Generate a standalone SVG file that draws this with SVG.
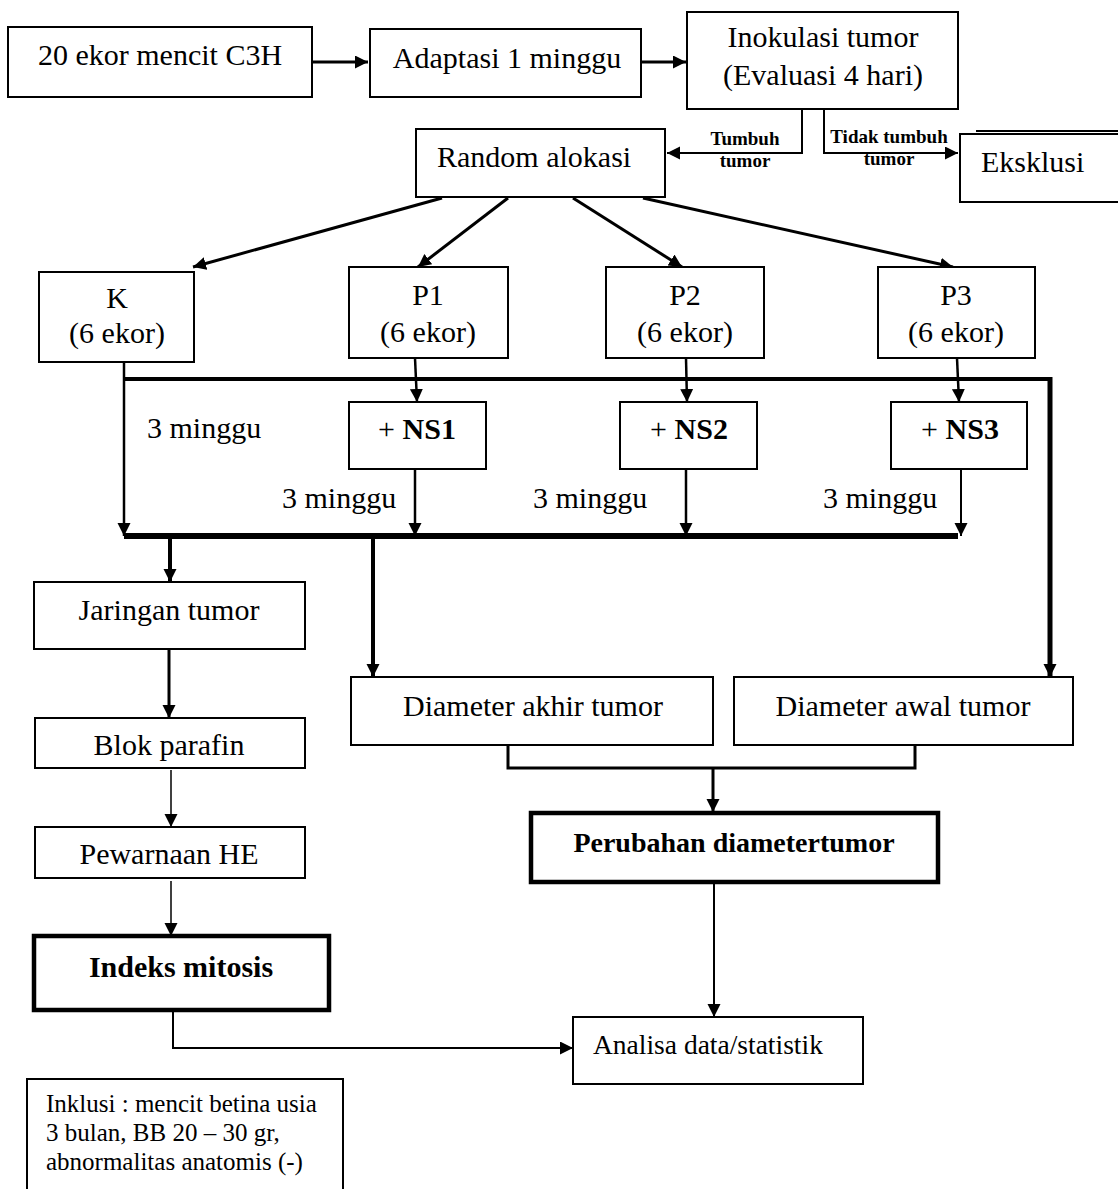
<svg xmlns="http://www.w3.org/2000/svg" width="1118" height="1189" viewBox="0 0 1118 1189">
<style>
text{font-family:"Liberation Serif","Times New Roman",serif;font-size:30px;fill:#000}
.b{font-weight:bold}
.m{text-anchor:middle}
.sm{font-size:19px;font-weight:bold;text-anchor:middle}
.box{fill:#fff;stroke:#000;stroke-width:2}
.bold{fill:#fff;stroke:#000;stroke-width:4.5}
.c{fill:none;stroke:#000;stroke-linejoin:miter}
</style>
<defs>
<marker id="ah" markerUnits="userSpaceOnUse" markerWidth="14" markerHeight="14" refX="13" refY="6.5" orient="auto">
<path d="M0,0 L13,6.5 L0,13 z" fill="#000"/>
</marker>
</defs>
<rect width="1118" height="1189" fill="#fff"/>

<g id="connectors">
<path class="c" stroke-width="3" d="M312,62 H368" marker-end="url(#ah)"/>
<path class="c" stroke-width="3" d="M641,62 H686" marker-end="url(#ah)"/>
<path class="c" stroke-width="2" d="M802,109 V153 H667" marker-end="url(#ah)"/>
<path class="c" stroke-width="2" d="M824,109 V153 H958" marker-end="url(#ah)"/>
<path class="c" stroke-width="3" d="M442,198 L193,267" marker-end="url(#ah)"/>
<path class="c" stroke-width="3" d="M508,198 L418,267" marker-end="url(#ah)"/>
<path class="c" stroke-width="3" d="M573,198 L682,267" marker-end="url(#ah)"/>
<path class="c" stroke-width="3" d="M643,198 L953,267" marker-end="url(#ah)"/>
<path class="c" stroke-width="2.5" d="M124,362 V536" marker-end="url(#ah)"/>
<path class="c" stroke-width="4" d="M124,379 H1050"/>
<path class="c" stroke-width="5" d="M1050,377 V677" marker-end="url(#ah)"/>
<path class="c" stroke-width="2.5" d="M415,358 L417,402" marker-end="url(#ah)"/>
<path class="c" stroke-width="2.5" d="M686,358 L687,402" marker-end="url(#ah)"/>
<path class="c" stroke-width="2.5" d="M957,358 L959,402" marker-end="url(#ah)"/>
<path class="c" stroke-width="2.5" d="M415,469 V536" marker-end="url(#ah)"/>
<path class="c" stroke-width="2.5" d="M686,469 V536" marker-end="url(#ah)"/>
<path class="c" stroke-width="2" d="M961,469 V536" marker-end="url(#ah)"/>
<path class="c" stroke-width="6" d="M124,536 H958"/>
<path class="c" stroke-width="4" d="M170,536 V582" marker-end="url(#ah)"/>
<path class="c" stroke-width="4" d="M373,536 V677" marker-end="url(#ah)"/>
<path class="c" stroke-width="3" d="M169,649 V718" marker-end="url(#ah)"/>
<path class="c" stroke-width="1.5" d="M171,770 V827" marker-end="url(#ah)"/>
<path class="c" stroke-width="1.5" d="M171,881 V936" marker-end="url(#ah)"/>
<path class="c" stroke-width="2" d="M173,1010 V1048 H573" marker-end="url(#ah)"/>
<path class="c" stroke-width="3" d="M508,745 V768 H915 V745"/>
<path class="c" stroke-width="3" d="M713,768 V812" marker-end="url(#ah)"/>
<path class="c" stroke-width="2" d="M714,882 V1017" marker-end="url(#ah)"/>
</g>

<g id="n-mencit"><rect class="box" x="8" y="27" width="304" height="70"/><text class="m" x="160" y="65">20 ekor mencit C3H</text></g>
<g id="n-adaptasi"><rect class="box" x="370" y="29" width="271" height="68"/><text class="m" x="507" y="68">Adaptasi 1 minggu</text></g>
<g id="n-inokulasi"><rect class="box" x="687" y="12" width="271" height="97"/><text class="m" x="823" y="47">Inokulasi tumor</text><text class="m" x="823" y="85">(Evaluasi 4 hari)</text></g>
<g id="n-random"><rect class="box" x="416" y="129" width="249" height="68"/><text x="437" y="167">Random alokasi</text></g>
<g id="l-tumbuh"><text class="sm" x="745" y="145">Tumbuh</text><text class="sm" x="745" y="167">tumor</text></g>
<g id="l-tidak"><text class="sm" x="889" y="143">Tidak tumbuh</text><text class="sm" x="889" y="165">tumor</text></g>
<g id="n-eksklusi"><line x1="976" y1="131" x2="1118" y2="131" stroke="#000" stroke-width="2"/><rect class="box" x="960" y="134" width="170" height="68"/><text x="981" y="172">Eksklusi</text></g>

<g id="n-k"><rect class="box" x="39" y="272" width="155" height="90"/><text class="m" x="117" y="308">K</text><text class="m" x="117" y="343">(6 ekor)</text></g>
<g id="n-p1"><rect class="box" x="349" y="267" width="159" height="91"/><text class="m" x="428" y="305">P1</text><text class="m" x="428" y="342">(6 ekor)</text></g>
<g id="n-p2"><rect class="box" x="606" y="267" width="158" height="91"/><text class="m" x="685" y="305">P2</text><text class="m" x="685" y="342">(6 ekor)</text></g>
<g id="n-p3"><rect class="box" x="878" y="267" width="157" height="91"/><text class="m" x="956" y="305">P3</text><text class="m" x="956" y="342">(6 ekor)</text></g>

<g id="n-ns1"><rect class="box" x="349" y="402" width="137" height="67"/><text class="m" x="417" y="439">+ <tspan class="b">NS1</tspan></text></g>
<g id="n-ns2"><rect class="box" x="620" y="402" width="137" height="67"/><text class="m" x="689" y="439">+ <tspan class="b">NS2</tspan></text></g>
<g id="n-ns3"><rect class="box" x="891" y="402" width="136" height="67"/><text class="m" x="960" y="439">+ <tspan class="b">NS3</tspan></text></g>

<g id="labels-minggu">
<text x="147" y="438">3 minggu</text>
<text x="282" y="508">3 minggu</text>
<text x="533" y="508">3 minggu</text>
<text x="823" y="508">3 minggu</text>
</g>

<g id="n-jaringan"><rect class="box" x="34" y="582" width="271" height="67"/><text class="m" x="169" y="620">Jaringan tumor</text></g>
<g id="n-akhir"><rect class="box" x="351" y="677" width="362" height="68"/><text class="m" x="533" y="716">Diameter akhir tumor</text></g>
<g id="n-awal"><rect class="box" x="734" y="677" width="339" height="68"/><text class="m" x="903" y="716">Diameter awal tumor</text></g>
<g id="n-blok"><rect class="box" x="35" y="718" width="270" height="50"/><text class="m" x="169" y="755">Blok parafin</text></g>
<g id="n-pewarnaan"><rect class="box" x="35" y="827" width="270" height="51"/><text class="m" x="169" y="864">Pewarnaan HE</text></g>
<g id="n-perubahan"><rect class="bold" x="531" y="813" width="407" height="69"/><text class="b m" x="734" y="852" style="font-size:28px">Perubahan diametertumor</text></g>
<g id="n-indeks"><rect class="bold" x="34" y="936" width="295" height="74"/><text class="b m" x="181" y="977">Indeks mitosis</text></g>
<g id="n-analisa"><rect class="box" x="573" y="1017" width="290" height="67"/><text x="593" y="1054" style="font-size:27.5px">Analisa data/statistik</text></g>
<g id="n-inklusi"><rect class="box" x="27" y="1079" width="316" height="130"/>
<text x="46" y="1112" style="font-size:25px">Inklusi : mencit betina usia</text>
<text x="46" y="1141" style="font-size:25px">3 bulan, BB 20 – 30 gr,</text>
<text x="46" y="1170" style="font-size:25px">abnormalitas anatomis (-)</text>
</g>
</svg>
